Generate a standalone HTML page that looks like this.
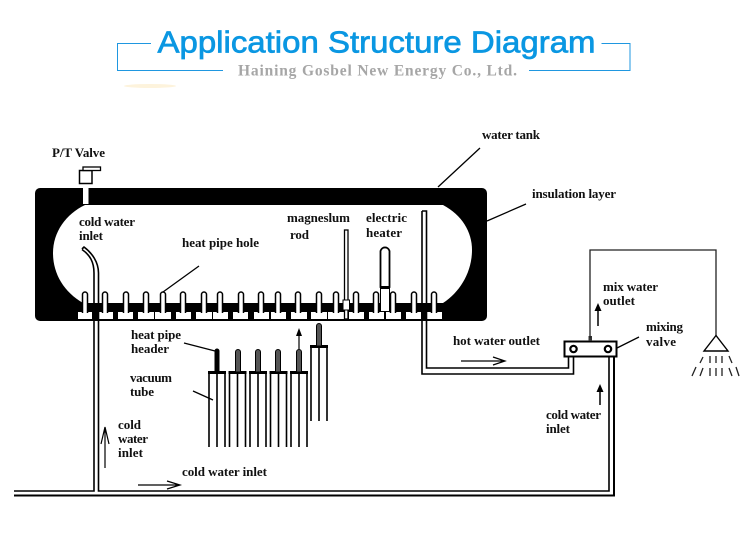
<!DOCTYPE html>
<html><head><meta charset="utf-8"><style>
html,body{margin:0;padding:0;background:#fff}
svg{display:block}
.t text{font-family:"Liberation Serif",serif;font-weight:bold;font-size:13px;fill:#111}
</style></head><body>
<svg width="750" height="546" viewBox="0 0 750 546" xmlns="http://www.w3.org/2000/svg">
<defs>
<g id="tip"><path d="M-2.5 21V2.5A2.5 2.5 0 0 1 2.5 2.5V21" fill="#fff" stroke="#000" stroke-width="1.500"/></g>
<g id="tube"><path d="M0 0V75M8 0V75M16 0V75" fill="none" stroke="#000" stroke-width="1.600"/><rect x="-1" y="-1" width="18" height="3" fill="#000"/></g>
<g id="hdr"><path d="M-2.5 23V3A2.5 2.5 0 0 1 2.5 3V23Z" fill="#555" stroke="#000" stroke-width="1"/></g>
</defs>
<rect width="750" height="546" fill="#fff"/>
<ellipse cx="150" cy="86" rx="26" ry="2" fill="#fdf3dc"/>

<!-- header -->
<path d="M151 43.500H117.500V70.500H223" fill="none" stroke="#1f97e0" stroke-width="1"/>
<path d="M601.500 43.500H630V70.500H529" fill="none" stroke="#1f97e0" stroke-width="1"/>
<text x="157.500" y="52.500" font-family="Liberation Sans, sans-serif" font-size="31" fill="#0a97e2" stroke="#0a97e2" stroke-width="0.700" textLength="438" lengthAdjust="spacingAndGlyphs">Application Structure Diagram</text>
<text x="238" y="75.500" font-family="Liberation Serif, serif" font-size="15.500" font-weight="bold" fill="#a6a6a6" textLength="279">Haining Gosbel New Energy Co., Ltd.</text>

<!-- tank -->
<rect x="35" y="188" width="452" height="133" rx="5" fill="#000"/>
<path d="M85 205H443C462 215 472 232 472 250C472 272 460 292 443 303H83C64 292 53 274 53 253C53 232 66 214 85 205Z" fill="#fff"/>
<g fill="#fff">
<rect x="78" y="312" width="14" height="7"/><rect x="98" y="312" width="15" height="7"/><rect x="118" y="312" width="15" height="7"/><rect x="138" y="312" width="16" height="7"/><rect x="155" y="312" width="16" height="7"/><rect x="176" y="312" width="15" height="7"/><rect x="196" y="312" width="16" height="7"/><rect x="213" y="312" width="15" height="7"/><rect x="233" y="312" width="15" height="7"/><rect x="254" y="312" width="15" height="7"/><rect x="271" y="312" width="15" height="7"/><rect x="291" y="312" width="16" height="7"/><rect x="311" y="312" width="16" height="7"/><rect x="328" y="312" width="16" height="7"/><rect x="349" y="312" width="15" height="7"/><rect x="369" y="312" width="15" height="7"/><rect x="386" y="312" width="15" height="7"/><rect x="406" y="312" width="15" height="7"/><rect x="427" y="312" width="15" height="7"/>
</g>
<use href="#tip" x="85" y="292"/><use href="#tip" x="105" y="292"/><use href="#tip" x="126" y="292"/><use href="#tip" x="146" y="292"/><use href="#tip" x="163" y="292"/><use href="#tip" x="183" y="292"/><use href="#tip" x="204" y="292"/><use href="#tip" x="220" y="292"/><use href="#tip" x="241" y="292"/><use href="#tip" x="261" y="292"/><use href="#tip" x="278" y="292"/><use href="#tip" x="298" y="292"/><use href="#tip" x="319" y="292"/><use href="#tip" x="336" y="292"/><use href="#tip" x="356" y="292"/><use href="#tip" x="376" y="292"/><use href="#tip" x="393" y="292"/><use href="#tip" x="414" y="292"/><use href="#tip" x="434" y="292"/>

<!-- P/T valve -->
<rect x="83" y="183" width="5.500" height="21" fill="#fff"/>
<rect x="79.500" y="170.500" width="12.500" height="13" fill="#fff" stroke="#000" stroke-width="1.500"/>
<rect x="83" y="167" width="17.500" height="3.500" fill="#fff" stroke="#000" stroke-width="1.300"/>

<!-- magnesium rod -->
<rect x="344.500" y="230" width="3.500" height="89" fill="#fff" stroke="#000" stroke-width="1.300"/>
<rect x="343" y="300" width="6.500" height="10" fill="#fff" stroke="#000" stroke-width="1"/>
<!-- electric heater -->
<path d="M380.500 287V251A4.700 5 0 0 1 389.500 251V287Z" fill="#fff" stroke="#000" stroke-width="1.800"/>
<rect x="380" y="286" width="10" height="3" fill="#000"/>
<rect x="381" y="289" width="8" height="22" fill="#fff"/>
<path d="M380.500 288V311M389.500 288V311" stroke="#000" stroke-width="1"/>

<!-- hot water pipe -->
<path d="M422 211H426.500V368H568.500V357" fill="none" stroke="#000" stroke-width="1.600"/>
<path d="M422 211V374H573.500V357" fill="none" stroke="#000" stroke-width="1.600"/>

<!-- cold water pipes -->
<path d="M14 491H94V273C94 262 90 255 82 249.500" fill="none" stroke="#000" stroke-width="1.600"/>
<path d="M82 249 L84 247C92 253 98.500 262 98.500 273V491H609V357" fill="none" stroke="#000" stroke-width="1.600"/>
<path d="M14 495.500H614V357" fill="none" stroke="#000" stroke-width="2"/>

<!-- mixing valve -->
<rect x="564.500" y="341.500" width="52" height="15" fill="#fff" stroke="#000" stroke-width="2"/>
<circle cx="573.500" cy="349" r="3.200" fill="#fff" stroke="#000" stroke-width="2.200"/>
<circle cx="608" cy="349" r="3.200" fill="#fff" stroke="#000" stroke-width="2.200"/>
<rect x="588.500" y="336" width="3.500" height="5" fill="#333"/>

<!-- mix water / shower -->
<path d="M590 338V250H716V336" fill="none" stroke="#222" stroke-width="1.300"/>
<path d="M716 335.500L704 351H728Z" fill="#fff" stroke="#000" stroke-width="1.400"/>
<g stroke="#222" stroke-width="1.300">
<path d="M703 357L700 363M710 356V363M716 356V363M722 356V363M729 356L732 363"/>
<path d="M696 367L692 376M703 368L700 376M710 368V376M716 368V376M722 368V376M729 368L732 376M736 367L739 376"/>
</g>

<!-- vacuum tubes -->
<use href="#tube" x="209" y="372"/><use href="#tube" x="229.500" y="372"/><use href="#tube" x="250" y="372"/><use href="#tube" x="270.500" y="372"/><use href="#tube" x="291" y="372"/><use href="#tube" x="311" y="346"/>
<path d="M214.500 372V351A2.500 2.500 0 0 1 219.500 351V372Z" fill="#000"/>
<use href="#hdr" x="238" y="349"/><use href="#hdr" x="258" y="349"/><use href="#hdr" x="278" y="349"/><use href="#hdr" x="299" y="349"/><use href="#hdr" x="319" y="323"/>

<!-- leaders -->
<g stroke="#000" stroke-width="1.300" fill="none">
<path d="M480 148L438 187M526 204L487 221M199 266L163 292M184 343L215 351M193 391L213 400M617 348L639 337"/>
</g>

<!-- arrows -->
<g stroke="#000" fill="none" stroke-width="1.200">
<path d="M105 468V428M101 444L105 427L109 444"/>
<path d="M138 485H179M167 481L180 485L167 489"/>
<path d="M461 361H504M493 357L505 361L493 365"/>
<path d="M598 326V306" stroke-width="1.500"/>
<path d="M600 405V387" stroke-width="1.500"/>
<path d="M299 349V331"/>
</g>
<path d="M598 303L594.500 311H601.500Z M600 384L596.500 392H603.500Z M299 328L296 336H302Z" fill="#000"/>

<!-- labels -->
<g class="t">
<text x="52" y="157" textLength="53">P/T Valve</text>
<text x="79" y="226" textLength="56">cold water</text>
<text x="79" y="240" textLength="24">inlet</text>
<text x="182" y="247" textLength="77">heat pipe hole</text>
<text x="287" y="222" textLength="63">magneslum</text>
<text x="290" y="239" textLength="19">rod</text>
<text x="366" y="222" textLength="41">electric</text>
<text x="366" y="237" textLength="36">heater</text>
<text x="482" y="139" textLength="58">water tank</text>
<text x="532" y="198" textLength="84">insulation layer</text>
<text x="131" y="339" textLength="50">heat pipe</text>
<text x="131" y="353" textLength="38">header</text>
<text x="130" y="382" textLength="42">vacuum</text>
<text x="130" y="396" textLength="24">tube</text>
<text x="118" y="429" textLength="23">cold</text>
<text x="118" y="443" textLength="30">water</text>
<text x="118" y="457" textLength="25">inlet</text>
<text x="182" y="476" textLength="85">cold water inlet</text>
<text x="453" y="345" textLength="87">hot water outlet</text>
<text x="603" y="291" textLength="55">mix water</text>
<text x="603" y="305" textLength="32">outlet</text>
<text x="646" y="331" textLength="37">mixing</text>
<text x="646" y="346" textLength="30">valve</text>
<text x="546" y="419" textLength="55">cold water</text>
<text x="546" y="433" textLength="24">inlet</text>
</g>
</svg>
</body></html>
